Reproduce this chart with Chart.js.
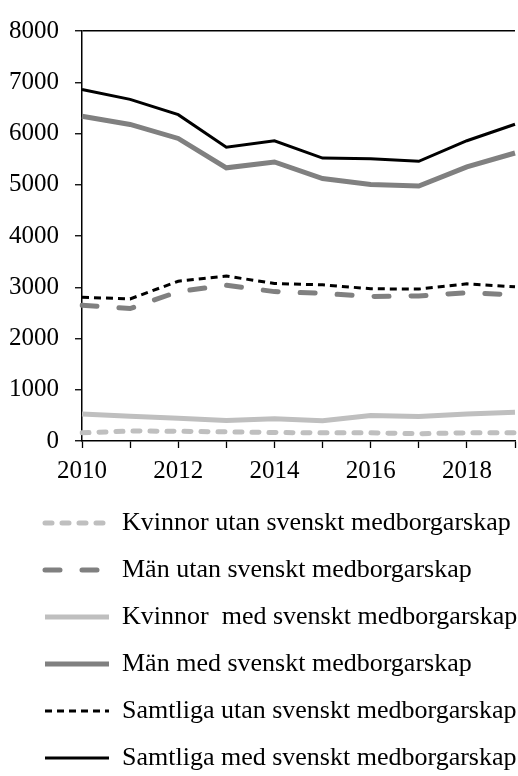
<!DOCTYPE html>
<html>
<head>
<meta charset="utf-8">
<script src="https://cdn.jsdelivr.net/npm/chart.js@4"></script>
<style>
  html, body { margin: 0; padding: 0; background: #fff; overflow: hidden; }
  #wrap { width: 518px; height: 776px; overflow: hidden; }
</style>
</head>
<body>
<div id="wrap"><canvas id="chart" width="523" height="781"></canvas></div>
<script>
// Years on the x axis (only even years get a label)
const years = ['2010', '2011', '2012', '2013', '2014', '2015', '2016', '2017', '2018', '2019'];

// Series values
const kvinnorUtan  = [160, 195, 190, 178, 165, 160, 160, 142, 160, 160];
const manUtan      = [2650, 2585, 2915, 3040, 2915, 2880, 2820, 2830, 2895, 2850];
const kvinnorMed   = [528, 484, 445, 401, 433, 395, 496, 477, 528, 560];
const manMed       = [6336, 6177, 5903, 5330, 5445, 5120, 5006, 4975, 5349, 5620];
const samtligaUtan = [2805, 2773, 3117, 3219, 3073, 3047, 2971, 2964, 3066, 3009];
const samtligaMed  = [6857, 6666, 6368, 5731, 5859, 5521, 5509, 5458, 5859, 6180];

const yTicks = [0, 1000, 2000, 3000, 4000, 5000, 6000, 7000, 8000];

const serif = 'Liberation Serif, Times New Roman, serif';
const lightGrey = '#bfbfbf';
const grey = '#808080';

// Push the legend rows in from the left edge (the y labels need the space above)
const legendShift = {
    id: 'legendShift',
    afterLayout: (chart) => {
        chart.legend.left = 24;
    }
};

const ctx = document.getElementById('chart').getContext('2d');
const chart = new Chart(ctx, {
    type: 'line',
    data: {
        labels: years,
        datasets: [
            { label: 'Kvinnor utan svenskt medborgarskap', data: kvinnorUtan, borderColor: lightGrey, borderWidth: 5, borderDash: [7, 10], borderCapStyle: 'round' },
            { label: 'Män utan svenskt medborgarskap', data: manUtan, borderColor: grey, borderWidth: 5, borderDash: [15, 22], borderCapStyle: 'round' },
            { label: 'Kvinnor  med svenskt medborgarskap', data: kvinnorMed, borderColor: lightGrey, borderWidth: 5 },
            { label: 'Män med svenskt medborgarskap', data: manMed, borderColor: grey, borderWidth: 5 },
            { label: 'Samtliga utan svenskt medborgarskap', data: samtligaUtan, borderColor: '#000', borderWidth: 3, borderDash: [7, 5] },
            { label: 'Samtliga med svenskt medborgarskap', data: samtligaMed, borderColor: '#000', borderWidth: 3 }
        ]
    },
    options: {
        responsive: false,
        animation: false,
        devicePixelRatio: 1,
        layout: { padding: { left: 0, top: 22, right: 0, bottom: 0 } },
        elements: {
            point: { radius: 0 },
            line: { tension: 0, fill: false }
        },
        scales: {
            x: {
                offset: false,
                grid: { drawOnChartArea: false, tickLength: 7, tickColor: '#000', tickWidth: 1.3 },
                border: { color: '#000', width: 1.5 },
                ticks: {
                    color: '#000',
                    font: { family: serif, size: 25 },
                    padding: 8,
                    autoSkip: false,
                    maxRotation: 0,
                    callback: (v, i) => (i % 2 === 0 ? years[i] : '')
                },
                afterFit: (s) => { s.height = 48; }
            },
            y: {
                min: 0,
                max: 8000,
                afterBuildTicks: (s) => { s.ticks = yTicks.map(v => ({ value: v })); },
                grid: {
                    color: (c) => (c.tick && c.tick.value === 8000 ? '#000' : 'rgba(0,0,0,0)'),
                    lineWidth: 1.5,
                    tickLength: 7,
                    tickColor: '#000',
                    tickWidth: 1.3
                },
                border: { color: '#000', width: 1.5 },
                ticks: {
                    color: '#000',
                    font: { family: serif, size: 25 },
                    padding: 16,
                    callback: (v) => String(v)
                },
                afterFit: (s) => { s.width = 82; }
            }
        },
        plugins: {
            tooltip: { enabled: false },
            legend: {
                position: 'bottom',
                align: 'start',
                labels: {
                    color: '#000',
                    font: { family: serif, size: 26 },
                    usePointStyle: true,
                    pointStyle: 'line',
                    pointStyleWidth: 64,
                    boxHeight: 2,
                    padding: 21,
                    // point style loses the dash, so copy it back from the dataset
                    generateLabels: (chart) => {
                        const items = Chart.defaults.plugins.legend.labels.generateLabels(chart);
                        items.forEach((item) => {
                            const ds = chart.data.datasets[item.datasetIndex];
                            item.lineDash = ds.borderDash || [];
                            item.lineCap = ds.borderCapStyle || 'butt';
                            item.lineWidth = ds.borderWidth;
                            item.strokeStyle = ds.borderColor;
                        });
                        return items;
                    }
                }
            }
        }
    },
    plugins: [legendShift]
});
</script>
</body>
</html>
